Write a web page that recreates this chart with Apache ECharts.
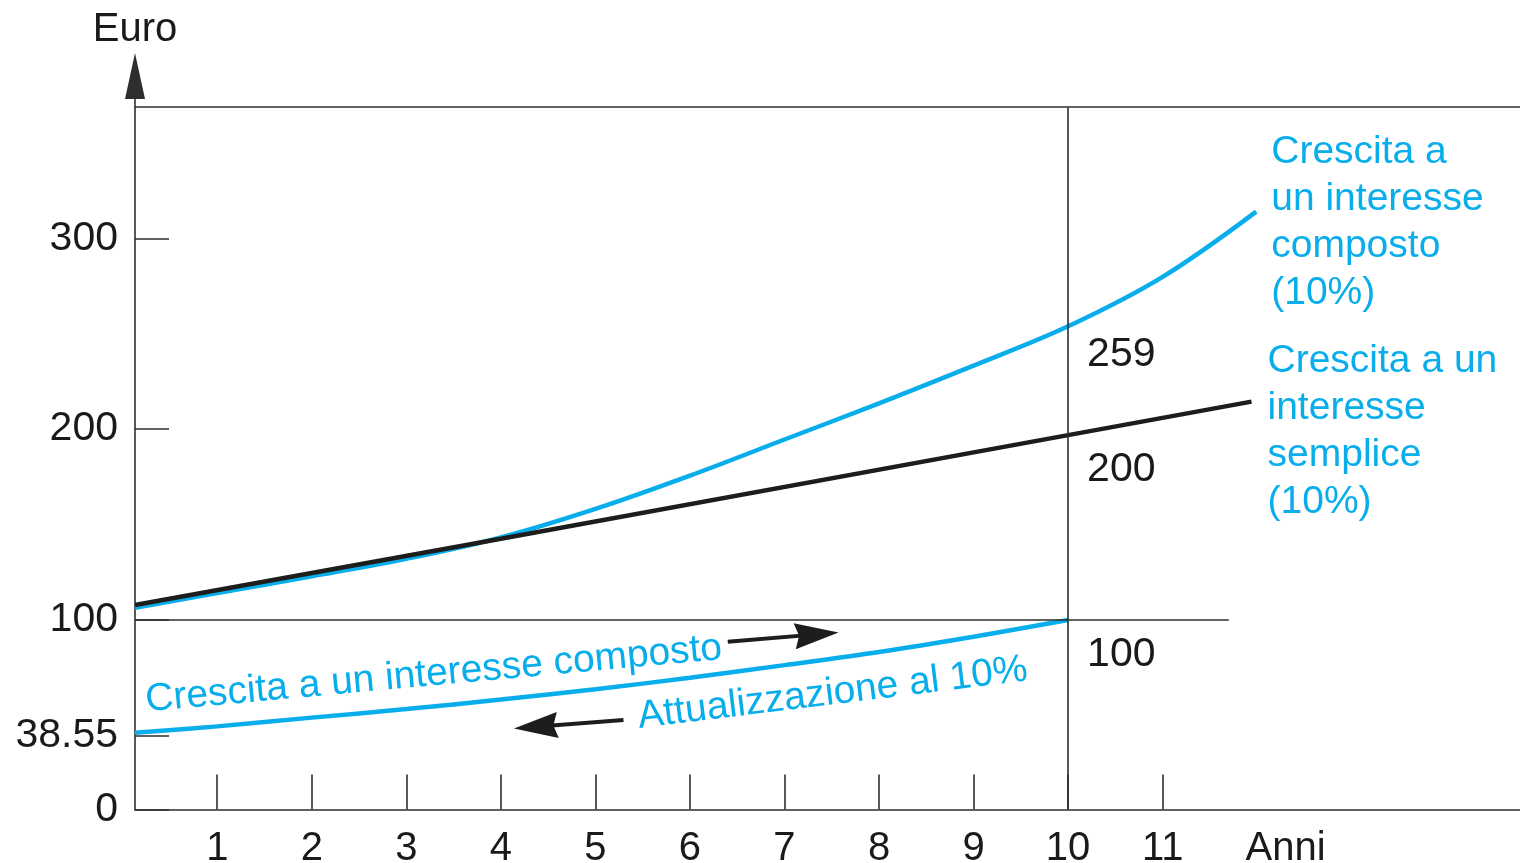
<!DOCTYPE html>
<html>
<head>
<meta charset="utf-8">
<script src="https://cdn.jsdelivr.net/npm/echarts@6.0.0/dist/echarts.min.js"></script>
<style>
html,body{margin:0;padding:0;background:#ffffff;}
#chart{width:1520px;height:863px;}
</style>
</head>
<body>
<div id="chart"></div>
<script>
// ---------------- data ----------------
const yearTicks = [1, 2, 3, 4, 5, 6, 7, 8, 9, 10, 11];
const xUnitLabel = 'Anni';
const xUnitPos = 12.3;
const yTickValues = [0, 38.55, 100, 200, 300];
const yUnitLabel = 'Euro';

// compound growth (upper blue curve)
const compoundYears  = [0.13, 1, 2, 3, 4, 5, 6, 7, 8, 9, 10, 11, 11.99];
const compoundValues = [106.1, 113.8, 122.6, 131.8, 143.0, 158.0, 175.5, 194.5, 213.5, 233.3, 254.0, 280.0, 314.3];

// simple interest growth (black line)
const simpleYears  = [0.13, 4, 10, 11.94];
const simpleValues = [107.5, 142.3, 196.8, 214.4];

// discounting curve (lower blue curve)
const discountYears  = [0.13, 1, 2, 3, 4, 5, 6, 7, 8, 9, 10];
const discountValues = [40.4, 43.7, 48.3, 52.8, 57.8, 63.2, 69.3, 75.9, 82.8, 90.8, 99.6];

const horizonYear = 10;
const horizonLabels = ['259', '200', '100'];
const referenceValue = 100;
const referenceEndYear = 11.7;
const frameTopValue = 369.2;

const compoundLabel = 'Crescita a\nun interesse\ncomposto\n(10%)';
const simpleLabel = 'Crescita a un\ninteresse\nsemplice\n(10%)';
const growthText = 'Crescita a un interesse composto';
const discountText = 'Attualizzazione al 10%';

// ---------------- chart ----------------
const BLUE = '#08adeb';
const BLACK = '#1d1d1b';
const AXIS = '#2e2e2e';
const INK = '#1a1a1a';
const FONT = '"Liberation Sans", Arial, Helvetica, sans-serif';
const X_MIN = 0.13, X_MAX = 14.78, Y_MAX = 373.5;

const zip = (xs, ys) => xs.map((x, i) => [x, ys[i]]);
const valAt = (xs, ys, x) => ys[xs.indexOf(x)];

const chart = echarts.init(document.getElementById('chart'), null, {renderer: 'canvas'});

const option = {
  animation: false,
  backgroundColor: '#ffffff',
  textStyle: {fontFamily: FONT},
  grid: {left: 135, right: 0, top: 99, bottom: 53.5, containLabel: false, outerBoundsMode: 'none'},
  xAxis: {
    type: 'value',
    min: X_MIN,
    max: X_MAX,
    splitLine: {show: false},
    axisLine: {show: true, onZero: false, lineStyle: {color: AXIS, width: 1.6}},
    axisTick: {show: true, inside: true, length: 35, customValues: yearTicks,
               lineStyle: {color: AXIS, width: 1.6}},
    axisLabel: {
      show: true,
      customValues: yearTicks.concat([xUnitPos]),
      formatter: v => (v === xUnitPos ? xUnitLabel : String(v)),
      color: INK, fontSize: 40, fontFamily: FONT, margin: 19,
      showMinLabel: true, showMaxLabel: true, hideOverlap: false
    }
  },
  yAxis: {
    type: 'value',
    min: 0,
    max: Y_MAX,
    name: yUnitLabel,
    nameLocation: 'end',
    nameGap: 49,
    nameTextStyle: {color: INK, fontSize: 40, fontFamily: FONT, align: 'center'},
    splitLine: {show: false},
    axisLine: {show: true, onZero: false, symbol: ['none', 'triangle'], symbolSize: [20, 46],
               symbolOffset: [0, 23], lineStyle: {color: AXIS, width: 1.6}},
    axisTick: {show: true, inside: true, length: 34, customValues: yTickValues,
               lineStyle: {color: AXIS, width: 1.6}},
    axisLabel: {
      show: true,
      customValues: yTickValues,
      formatter: v => String(v),
      color: INK, fontSize: 41, fontFamily: FONT, margin: 17
    }
  },
  series: [
    {
      name: 'compound',
      type: 'line',
      data: zip(compoundYears, compoundValues),
      smooth: 0.35,
      symbol: 'none',
      lineStyle: {color: BLUE, width: 4.5},
      z: 3,
      endLabel: {
        show: true, formatter: compoundLabel, color: BLUE, fontSize: 39, fontFamily: FONT,
        lineHeight: 47, distance: 15, offset: [0, 11], align: 'left'
      },
      markPoint: {
        symbol: 'circle', symbolSize: 0, silent: true,
        label: {show: true, position: [19, 28], verticalAlign: 'middle', align: 'left',
                color: INK, fontSize: 41, fontFamily: FONT},
        data: [{coord: [horizonYear, valAt(compoundYears, compoundValues, horizonYear)],
                label: {formatter: horizonLabels[0]}}]
      }
    },
    {
      name: 'discount',
      type: 'line',
      data: zip(discountYears, discountValues),
      smooth: 0.35,
      symbol: 'none',
      lineStyle: {color: BLUE, width: 4.5},
      z: 3,
      markPoint: {
        symbol: 'circle', symbolSize: 0, silent: true,
        label: {show: true, color: BLUE, fontSize: 39, fontFamily: FONT},
        data: [
          {coord: [horizonYear, valAt(discountYears, discountValues, horizonYear)],
           label: {formatter: horizonLabels[2], position: [19, 35], verticalAlign: 'middle',
                   align: 'left', color: INK, fontSize: 41}},
          {coord: [3.29, 71.0],
           label: {formatter: growthText, position: 'inside', rotate: 5.2}},
          {coord: [7.51, 61.0],
           label: {formatter: discountText, position: 'inside', rotate: 7}}
        ]
      },
      markLine: {
        silent: true,
        symbol: ['none', 'path://M5,0L10,20L5,18L0,20Z'],
        symbolSize: [26, 44],
        label: {show: false},
        lineStyle: {color: BLACK, width: 4, type: 'solid'},
        data: [
          [{coord: [6.40, 88.2]}, {coord: [7.34, 92.06]}],
          [{coord: [5.297, 47.06]}, {coord: [4.37, 43.5]}]
        ]
      }
    },
    {
      name: 'simple',
      type: 'line',
      data: zip(simpleYears, simpleValues),
      symbol: 'none',
      lineStyle: {color: BLACK, width: 4.5},
      z: 4,
      endLabel: {
        show: true, formatter: simpleLabel, color: BLUE, fontSize: 39, fontFamily: FONT,
        lineHeight: 47, distance: 16, offset: [0, 30], align: 'left'
      },
      markPoint: {
        symbol: 'circle', symbolSize: 0, silent: true,
        label: {show: true, position: [19, 35], verticalAlign: 'middle', align: 'left',
                color: INK, fontSize: 41, fontFamily: FONT},
        data: [{coord: [horizonYear, valAt(simpleYears, simpleValues, horizonYear)],
                label: {formatter: horizonLabels[1]}}]
      },
      markLine: {
        silent: true,
        symbol: ['none', 'none'],
        label: {show: false},
        lineStyle: {color: AXIS, width: 1.6, type: 'solid'},
        data: [
          [{coord: [X_MIN, frameTopValue]}, {coord: [X_MAX, frameTopValue]}],
          [{coord: [horizonYear, 0]}, {coord: [horizonYear, frameTopValue]}],
          [{coord: [X_MIN, referenceValue]}, {coord: [referenceEndYear, referenceValue]}]
        ]
      }
    }
  ]
};

chart.setOption(option);
</script>
</body>
</html>
